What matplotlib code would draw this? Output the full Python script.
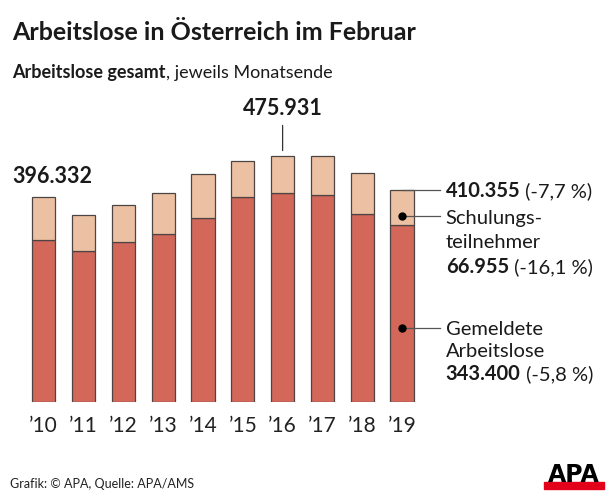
import matplotlib
matplotlib.use("Agg")
import matplotlib.pyplot as plt
from matplotlib.patches import Rectangle
from matplotlib.transforms import blended_transform_factory

plt.rcParams['font.family'] = ['Lato', 'DejaVu Sans']

# Februar-Werte in Tausend
jahre = ["’10", "’11", "’12", "’13", "’14", "’15", "’16", "’17", "’18", "’19"]
gemeldet = [312.9, 292.1, 309.6, 325.7, 356.1, 396.8, 404.5, 400.7, 364.4, 343.400]
schulung = [83.432, 69.8, 71.1, 78.3, 84.7, 69.2, 71.431, 74.8, 79.8, 66.955]
gesamt = [g + s for g, s in zip(gemeldet, schulung)]

W, H = 616, 502
col_dark = "#d2675a"
col_light = "#ecc0a2"
col_edge = "#4d4444"
col_text = "#1a1a1a"


def fx(px):
    return px / W


def fy(py):
    return 1 - py / H


fig = plt.figure(figsize=(W / 100, H / 100), dpi=100)
ax = fig.add_axes([fx(15.9), 99.3 / H, 414 / W, 302.7 / H])
ax.set_xlim(-0.7, 9.7)
ax.set_ylim(0, 586.7)
ax.axis("off")

x = list(range(len(jahre)))
ax.bar(x, gemeldet, width=0.58, color=col_dark, edgecolor=col_edge, linewidth=0.9)
ax.bar(x, schulung, width=0.58, bottom=gemeldet, color=col_light,
       edgecolor=col_edge, linewidth=0.9)

tr = blended_transform_factory(ax.transData, fig.transFigure)
for i, lab in enumerate(jahre):
    fig.text(i, fy(432), lab, ha="center", va="baseline", fontsize=15,
             color="#222222", transform=tr)

# Wert 2010
fig.text(fx(12.5), fy(182.7), "396.332", fontsize=15.5, weight="bold",
         color=col_text, va="baseline", ha="left")

# Maximum 2016
ax.annotate("475.931", xy=(6, gesamt[6]), xytext=(0, 30), textcoords="offset points",
            ha="center", va="baseline", fontsize=15.5, weight="bold", color=col_text,
            arrowprops=dict(arrowstyle="-", color="#333333", lw=0.9,
                            shrinkA=3, shrinkB=4))

# Beschriftung 2019 rechts
xl = 9.955
xt = 10.1
ax.plot([9, xl], [gesamt[9], gesamt[9]], color="#555555", lw=0.9, clip_on=False)
y_s = gemeldet[9] + schulung[9] * 0.25
y_g = gemeldet[9] * 0.414
for yy in (y_s, y_g):
    ax.plot([9, xl], [yy, yy], color="#555555", lw=0.9, clip_on=False)
    ax.plot(9, yy, "o", color="black", ms=5, clip_on=False)

fs = 14.5
ax.text(xt, gesamt[9], "410.355", fontsize=fs, weight="bold", va="center",
        color=col_text, clip_on=False)
fig.canvas.draw()
rend = fig.canvas.get_renderer()


def follow(t, s, **kw):
    bb = t.get_window_extent(rend)
    x0 = ax.transData.inverted().transform((bb.x1, 0))[0]
    return ax.text(x0, t.get_position()[1], s, transform=t.get_transform(), **kw)


t1 = ax.texts[-1]
follow(t1, " (-7,7 %)", fontsize=fs, va="center", color=col_text)

lh = 24 * 1.9384  # Zeilenabstand in Datenwerten
ax.text(xt, y_s - 4, "Schulungs-", fontsize=fs, va="center", color=col_text)
ax.text(xt, y_s - 4 - lh, "teilnehmer", fontsize=fs, va="center", color=col_text)
t2 = ax.text(xt, y_s - 4 - 2 * lh, "66.955", fontsize=fs, weight="bold", va="center",
             color=col_text)
follow(t2, " (-16,1 %)", fontsize=fs, va="center", color=col_text)

lh2 = 22.5 * 1.9384
ax.text(xt, y_g, "Gemeldete", fontsize=fs, va="center", color=col_text)
ax.text(xt, y_g - lh2, "Arbeitslose", fontsize=fs, va="center", color=col_text)
t3 = ax.text(xt, y_g - 2 * lh2, "343.400", fontsize=fs, weight="bold", va="center",
             color=col_text)
follow(t3, " (-5,8 %)", fontsize=fs, va="center", color=col_text)

# Titel
fig.text(fx(12), fy(40), "Arbeitslose in Österreich im Februar", fontsize=18,
         weight="bold", va="baseline", color=col_text)
st = fig.text(fx(12), fy(78), "Arbeitslose gesamt", fontsize=13, weight="bold",
              va="baseline", color=col_text)
bb = st.get_window_extent(rend)
fig.text(bb.x1 / W, fy(78), ", jeweils Monatsende", fontsize=13,
         va="baseline", color=col_text)

# Fußzeile
fig.text(fx(10), fy(488), "Grafik: © APA, Quelle: APA/AMS", fontsize=9,
         va="baseline", color="#222222")
fig.text(fx(574), fy(482.5), "APA", fontsize=17, weight="heavy", ha="center",
         va="baseline", color="black", family="DejaVu Sans")
fig.patches.append(Rectangle((fx(544), fy(489.5)), fx(60), 6.5 / H,
                             transform=fig.transFigure, color="#e2001a"))

fig.savefig("out.png", dpi=100)
